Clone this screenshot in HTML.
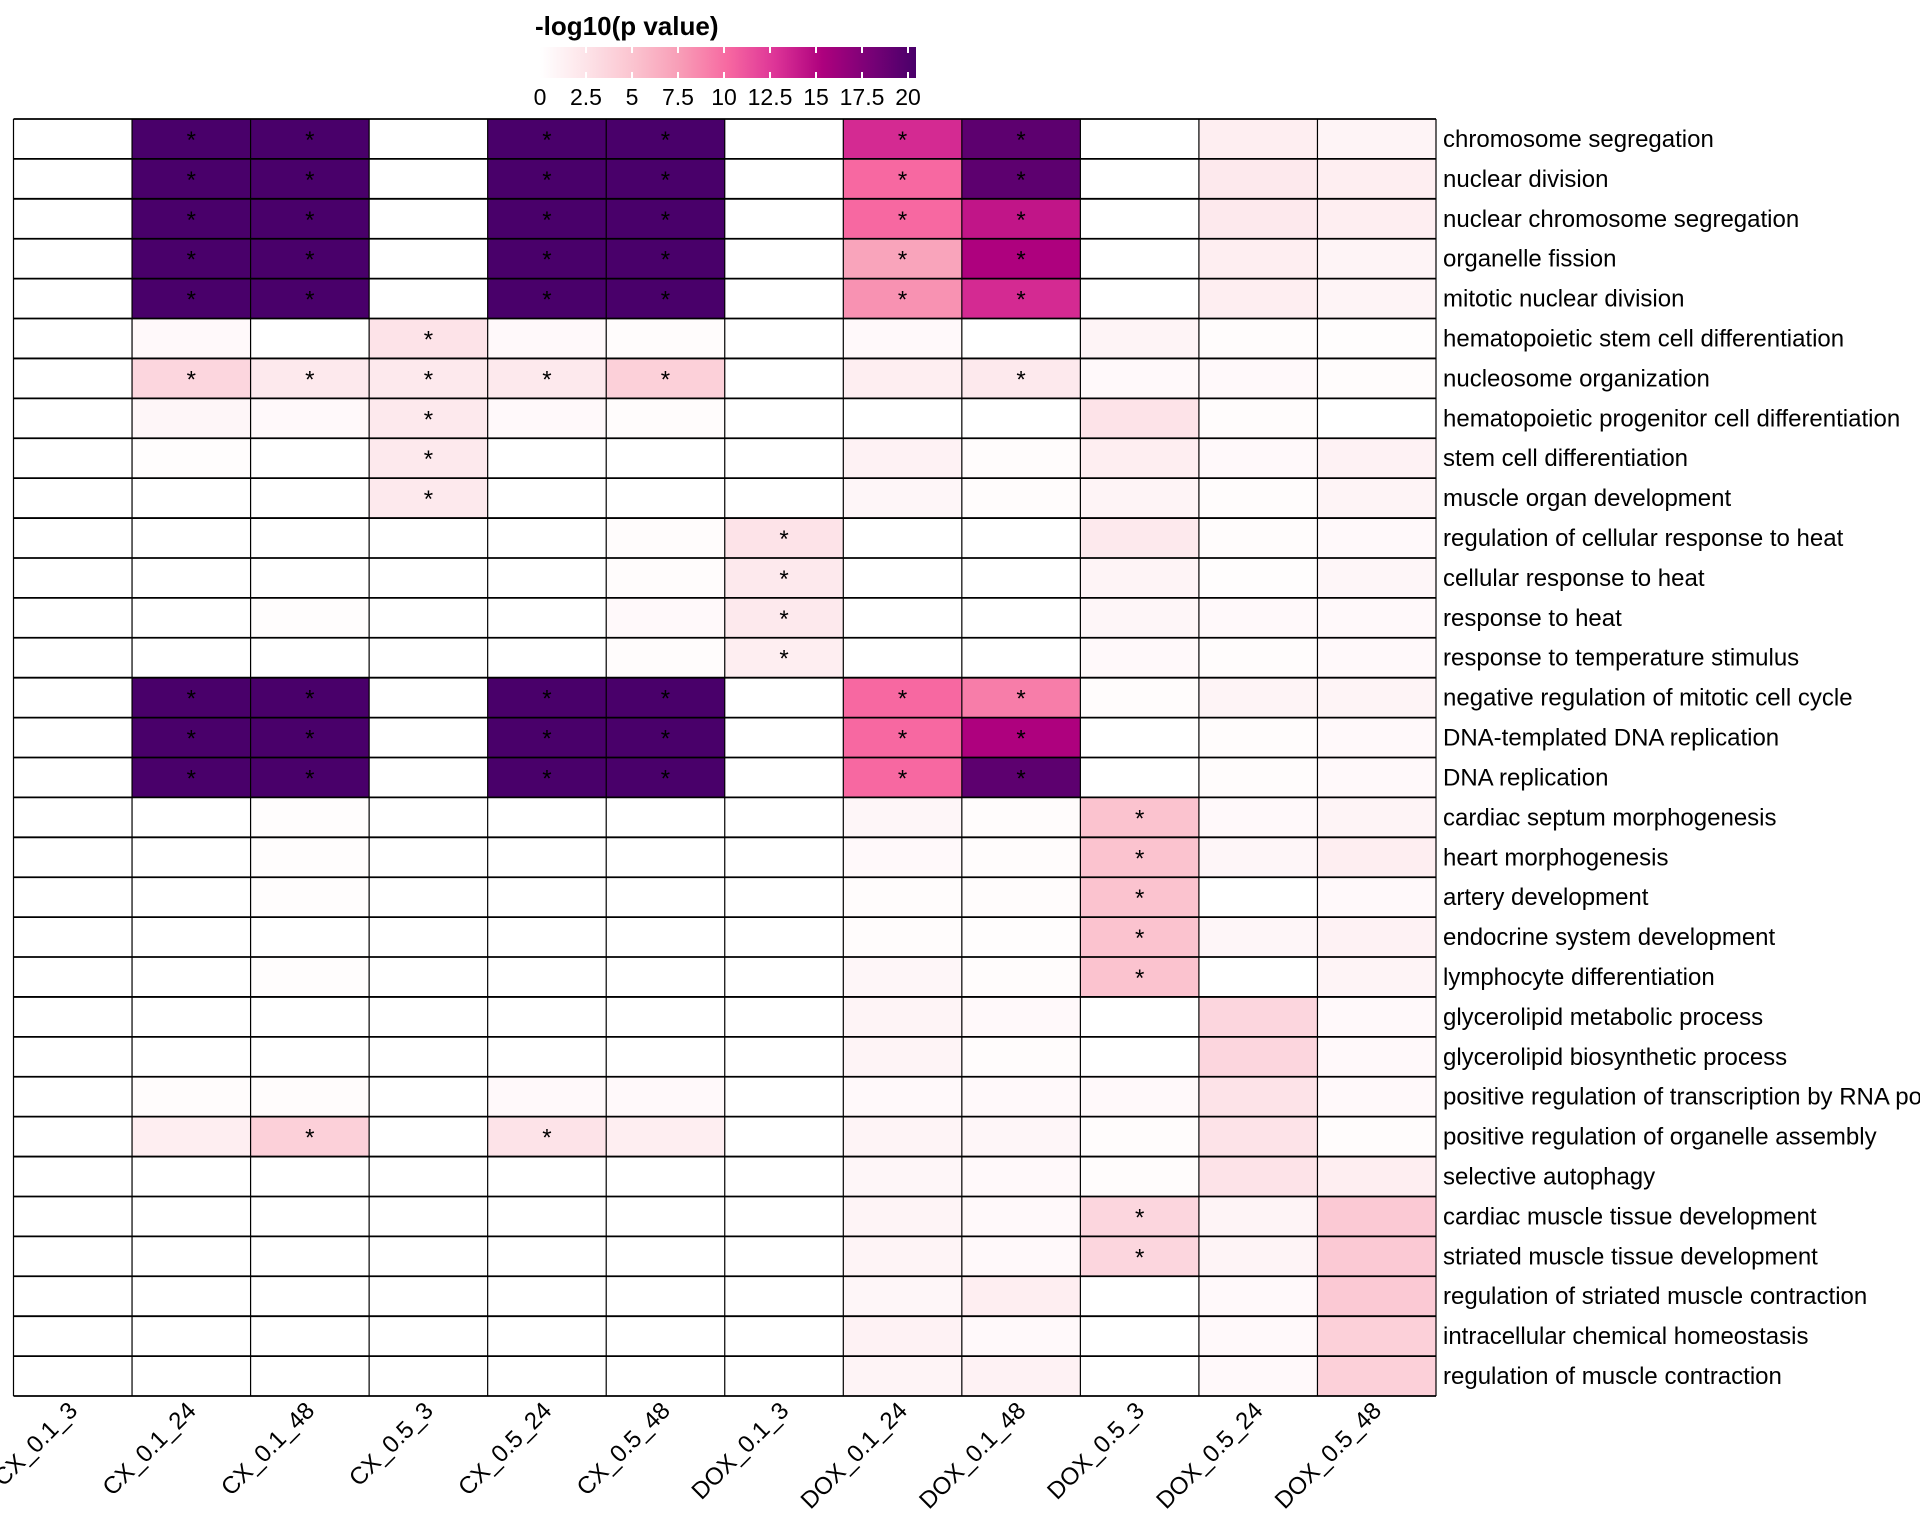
<!DOCTYPE html>
<html><head><meta charset="utf-8"><style>
html,body{margin:0;padding:0;background:#fff;width:1920px;height:1536px;overflow:hidden}
svg{display:block;font-family:"Liberation Sans",sans-serif}
</style></head><body>
<svg id="chart" width="1920" height="1536" xmlns="http://www.w3.org/2000/svg">
<defs><linearGradient id="lg" x1="0" x2="1" y1="0" y2="0">
<stop offset="0" stop-color="#FFFFFF"/>
<stop offset="0.125" stop-color="#FDE3E8"/><stop offset="0.25" stop-color="#FBC3CF"/>
<stop offset="0.375" stop-color="#F89CB6"/><stop offset="0.5" stop-color="#F768A1"/>
<stop offset="0.625" stop-color="#DD3497"/><stop offset="0.75" stop-color="#AE017E"/>
<stop offset="0.875" stop-color="#7A0177"/><stop offset="1" stop-color="#49006A"/></linearGradient></defs>
<g id="legend">
<text x="535" y="35" font-size="26" font-weight="bold">-log10(p value)</text>
<rect x="540" y="47" width="376" height="31" fill="url(#lg)"/>
</g>
<g id="cells"></g><g id="grid"></g><g id="stars"></g><g id="rowlabels"></g><g id="collabels"></g>
</svg>
<script>
const columns=["CX_0.1_3","CX_0.1_24","CX_0.1_48","CX_0.5_3","CX_0.5_24","CX_0.5_48","DOX_0.1_3","DOX_0.1_24","DOX_0.1_48","DOX_0.5_3","DOX_0.5_24","DOX_0.5_48"];
const rows=["chromosome segregation","nuclear division","nuclear chromosome segregation","organelle fission","mitotic nuclear division","hematopoietic stem cell differentiation","nucleosome organization","hematopoietic progenitor cell differentiation","stem cell differentiation","muscle organ development","regulation of cellular response to heat","cellular response to heat","response to heat","response to temperature stimulus","negative regulation of mitotic cell cycle","DNA-templated DNA replication","DNA replication","cardiac septum morphogenesis","heart morphogenesis","artery development","endocrine system development","lymphocyte differentiation","glycerolipid metabolic process","glycerolipid biosynthetic process","positive regulation of transcription by RNA polymerase II","positive regulation of organelle assembly","selective autophagy","cardiac muscle tissue development","striated muscle tissue development","regulation of striated muscle contraction","intracellular chemical homeostasis","regulation of muscle contraction"];
const values=[
[0,20,20,0,20,20,0,13,19,0,1.5,1],
[0,20,20,0,20,20,0,10,19,0,2,1.5],
[0,20,20,0,20,20,0,10,14,0,2,1.5],
[0,20,20,0,20,20,0,7,15,0,1.5,1],
[0,20,20,0,20,20,0,8,13,0,1.5,1],
[0,0.5,0,2.5,0.5,0.3,0,0.5,0,1,0.3,0.2],
[0,3.5,2,2,2,4,0,1.5,2,0.5,0.5,0.3],
[0,0.8,0.5,2,0.5,0.3,0,0,0,2.5,0.3,0],
[0,0.2,0,2,0,0,0,1.2,0.3,1.5,0.5,1.2],
[0,0,0,2,0,0,0,0.8,0.3,1,0.3,1],
[0,0,0,0,0,0.3,2.5,0,0,2,0.3,0.5],
[0,0,0,0,0,0.3,2,0,0,1,0.2,0.8],
[0,0,0.2,0,0,0.5,2,0,0,0.8,0.5,0.5],
[0,0,0,0,0,0.3,1.5,0,0,0.5,0.3,0.5],
[0,20,20,0,20,20,0,10,9,0.3,1,1],
[0,20,20,0,20,20,0,10,15,0,0.3,0.5],
[0,20,20,0,20,20,0,10,19,0,0.3,0.5],
[0,0,0.2,0,0,0,0,0.8,0.3,5,0.5,1],
[0,0,0.2,0,0,0,0,0.5,0.3,5,0.8,1.5],
[0,0,0.2,0,0,0,0,0.3,0.3,5,0,0.5],
[0,0,0,0,0,0,0,0.3,0.2,5,0.8,1.2],
[0,0,0.2,0,0,0,0,0.8,0.3,5,0,1],
[0,0,0,0,0,0,0,1,0.5,0,3.5,0.5],
[0,0,0,0,0,0,0,1,0.3,0,3.5,0.5],
[0,0.3,0.3,0,0.5,0.5,0,0.5,0.5,0.5,2.5,0.5],
[0,1.5,4,0,2.5,1.5,0,1,0.8,0.3,2.5,0.3],
[0,0,0,0,0,0,0,0.8,0.5,0.3,2.5,1.5],
[0,0,0,0,0,0,0,1,0.5,3.5,1,4.5],
[0,0,0,0,0,0,0,1,0.5,3.5,1,4.5],
[0,0,0,0,0,0,0,0.8,1.5,0,0.5,4.5],
[0,0,0,0,0,0,0,1.2,0.5,0,0.5,4],
[0,0,0,0,0,0,0,1,1.2,0,0.5,4]];
const stars=[[1,2,4,5,7,8],[1,2,4,5,7,8],[1,2,4,5,7,8],[1,2,4,5,7,8],[1,2,4,5,7,8],[3],[1,2,3,4,5,8],[3],[3],[3],[6],[6],[6],[6],[1,2,4,5,7,8],[1,2,4,5,7,8],[1,2,4,5,7,8],[9],[9],[9],[9],[9],[],[],[],[2,4],[],[9],[9],[],[],[]];
const legendTicks=[0,2.5,5,7.5,10,12.5,15,17.5,20];
const legendTickLabels=["0","2.5","5","7.5","10","12.5","15","17.5","20"];

const NS="http://www.w3.org/2000/svg";
const L=13.5,R=1436,T=119,B=1396;
const cw=(R-L)/columns.length,rh=(B-T)/rows.length;
const xs=i=>L+i*cw, ys=j=>T+j*rh;
const lx=v=>540+v/20*368;
const stops=[[255,255,255],[253,227,232],[251,195,207],[248,156,182],[247,104,161],[221,52,151],[174,1,126],[122,1,119],[73,0,106]];
function color(v){v=Math.max(0,Math.min(20,v));const p=v/2.5,i=Math.min(7,Math.floor(p)),f=p-i;
const a=stops[i],b=stops[i+1];return "rgb("+a.map((c,k)=>Math.round(c+(b[k]-c)*f)).join(",")+")";}
function mk(t,at,parent){const e=document.createElementNS(NS,t);for(const k in at)e.setAttribute(k,at[k]);document.getElementById(parent).appendChild(e);return e;}

values.forEach((row,j)=>row.forEach((v,i)=>{
 const r=mk("rect",{x:xs(i),y:ys(j),width:cw+0.5,height:rh+0.5,fill:color(v)},"cells");
 
 
}));
for(let i=0;i<=columns.length;i++){const l=mk("line",{x1:xs(i),x2:xs(i),y1:T,y2:B,stroke:"#000","stroke-width":1.2},"grid");
 
 }
for(let j=0;j<=rows.length;j++){const l=mk("line",{x1:L,x2:R,y1:ys(j),y2:ys(j),stroke:"#000","stroke-width":1.8},"grid");
 
 }
stars.forEach((s,j)=>s.forEach(i=>{
 const t=mk("text",{x:xs(i)+cw/2,y:ys(j)+rh/2+9,"font-size":24,"text-anchor":"middle"},"stars");t.textContent="*";
 
 
}));
rows.forEach((n,j)=>{
 const t=mk("text",{x:1443,y:ys(j)+rh/2+8,"font-size":24},"rowlabels");t.textContent=n;
 
 
});
columns.forEach((n,i)=>{
 const x=xs(i)+cw/2+6,y=B+16;
 const t=mk("text",{x:x,y:y,"font-size":24,"text-anchor":"end",transform:"rotate(-45 "+x+" "+y+")"},"collabels");t.textContent=n;
 
 
});
legendTicks.forEach((v,k)=>{
 if(v>0){
 const a=mk("line",{x1:lx(v),x2:lx(v),y1:47,y2:53,stroke:"#fff","stroke-width":2},"legend");
 
 
 const b=mk("line",{x1:lx(v),x2:lx(v),y1:72,y2:78,stroke:"#fff","stroke-width":2},"legend");
 
 }
 const t=mk("text",{x:lx(v),y:105,"font-size":23,"text-anchor":"middle"},"legend");t.textContent=legendTickLabels[k];
 
 
});
</script>
</body></html>
